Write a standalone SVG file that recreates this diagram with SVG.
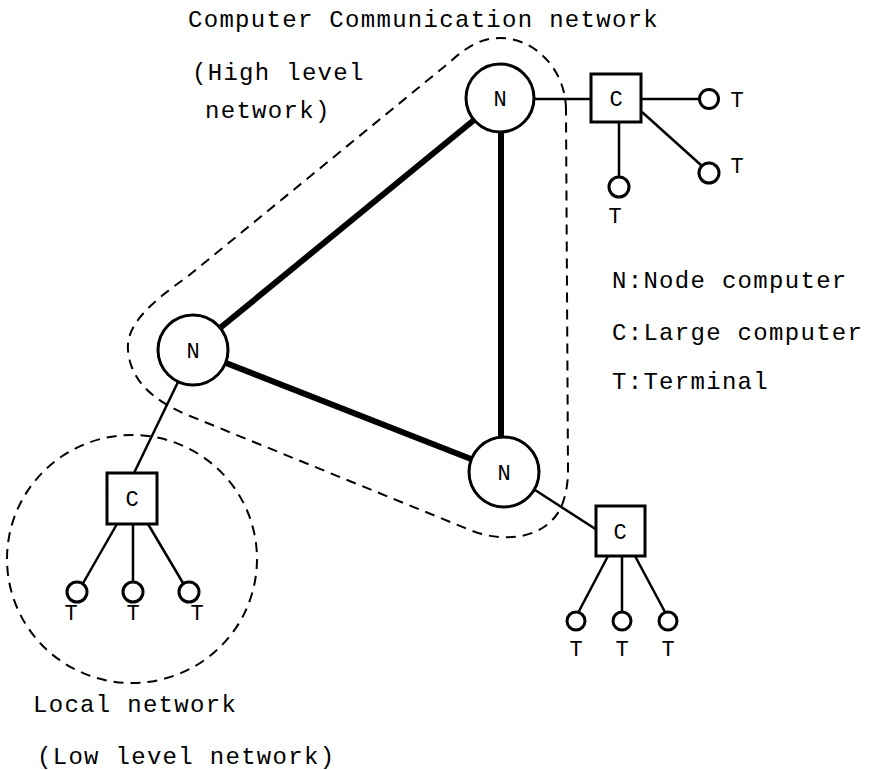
<svg xmlns="http://www.w3.org/2000/svg" width="873" height="770" viewBox="0 0 873 770">
<style>
text{font-family:"Liberation Mono","Courier New",monospace;fill:#000}
.lbl{font-size:24px;letter-spacing:1.3px}
.n{font-size:22px;text-anchor:middle}
.t{font-size:22px;text-anchor:middle}
.node{fill:#fff;stroke:#000;stroke-width:3}
.term{fill:#fff;stroke:#000;stroke-width:3}
.thick{stroke:#000;stroke-width:6;fill:none}
.thin{stroke:#000;stroke-width:2.5;fill:none}
.dash{stroke:#000;stroke-width:2;fill:none;stroke-dasharray:10 7}
</style>
<rect width="873" height="770" fill="#fff"/>
<g id="regions">
<path class="dash" d="M566,110 C566,70 535,38 500,38 C480,38 465,48 450,62 L187,277 C150,303 126,325 128,350 C130,378 150,400 190,416 L470,530 C510,546 550,535 562,505 C567,492 568,480 568,470 Z"/>
<ellipse class="dash" cx="132" cy="559" rx="125" ry="124"/>
</g>
<g id="connectors">
<line class="thick" x1="474" y1="120" x2="220" y2="328"/>
<line class="thick" x1="501" y1="132" x2="501" y2="437"/>
<line class="thick" x1="226" y1="363" x2="471" y2="459"/>
<line class="thin" x1="534" y1="99" x2="591" y2="99"/>
<line class="thin" x1="641" y1="99" x2="699" y2="99"/>
<line class="thin" x1="642" y1="112" x2="702" y2="166"/>
<line class="thin" x1="619" y1="122" x2="619" y2="177"/>
<line class="thin" x1="178" y1="382" x2="134" y2="473"/>
<line class="thin" x1="117" y1="524" x2="82" y2="585"/>
<line class="thin" x1="133" y1="524" x2="133" y2="582"/>
<line class="thin" x1="148" y1="524" x2="183" y2="583"/>
<line class="thin" x1="535" y1="490" x2="597" y2="530"/>
<line class="thin" x1="608" y1="556" x2="578" y2="613"/>
<line class="thin" x1="622" y1="556" x2="622" y2="611"/>
<line class="thin" x1="635" y1="556" x2="665" y2="612"/>
</g>
<g id="N-top"><circle class="node" cx="500" cy="98" r="34"/><text class="n" x="500" y="106">N</text></g>
<g id="N-left"><circle class="node" cx="193" cy="350" r="35"/><text class="n" x="193" y="358">N</text></g>
<g id="N-bottom"><circle class="node" cx="504" cy="472" r="35"/><text class="n" x="504" y="480">N</text></g>
<g id="C-top"><rect class="node" x="591" y="74" width="50" height="48"/><text class="n" x="616" y="106">C</text></g>
<g id="C-left"><rect class="node" x="107" y="473" width="50" height="51"/><text class="n" x="132" y="506">C</text></g>
<g id="C-right"><rect class="node" x="596" y="506" width="49" height="50"/><text class="n" x="620" y="539">C</text></g>
<g id="T-top1"><circle class="term" cx="709" cy="99" r="9.5"/><text class="t" x="737" y="107">T</text></g>
<g id="T-top2"><circle class="term" cx="709" cy="173" r="10"/><text class="t" x="737" y="173">T</text></g>
<g id="T-top3"><circle class="term" cx="619" cy="187" r="10"/><text class="t" x="615" y="223">T</text></g>
<g id="T-left1"><circle class="term" cx="77" cy="592" r="10"/><text class="t" x="71" y="620">T</text></g>
<g id="T-left2"><circle class="term" cx="133" cy="592" r="10"/><text class="t" x="133" y="620">T</text></g>
<g id="T-left3"><circle class="term" cx="189" cy="592" r="10"/><text class="t" x="197" y="620">T</text></g>
<g id="T-right1"><circle class="term" cx="576" cy="621" r="9"/><text class="t" x="576" y="656">T</text></g>
<g id="T-right2"><circle class="term" cx="622" cy="621" r="9"/><text class="t" x="622" y="656">T</text></g>
<g id="T-right3"><circle class="term" cx="668" cy="621" r="9"/><text class="t" x="668" y="656">T</text></g>
<g id="labels">
<text class="lbl" x="188" y="27">Computer Communication network</text>
<text class="lbl" x="192" y="80">(High level</text>
<text class="lbl" x="205" y="118">network)</text>
<text class="lbl" x="612" y="288">N:Node computer</text>
<text class="lbl" x="612" y="340">C:Large computer</text>
<text class="lbl" x="612" y="389">T:Terminal</text>
<text class="lbl" x="33" y="712">Local network</text>
<text class="lbl" x="37" y="764">(Low level network)</text>
</g>
</svg>
